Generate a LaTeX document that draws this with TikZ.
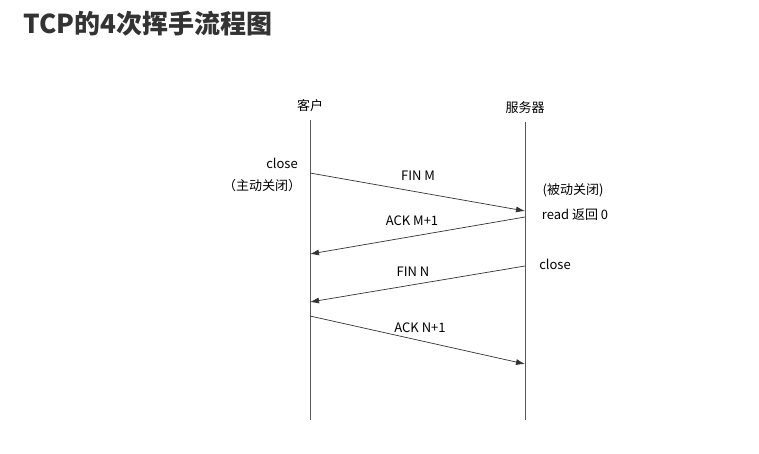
\documentclass[tikz,border=0pt]{standalone}
\usepackage{fontspec}
\setmainfont{Liberation Sans}
\newfontfamily\cjk{Noto Sans CJK SC}
\usetikzlibrary{positioning,arrows.meta}
\begin{document}
\begin{tikzpicture}[x=1pt,y=-1pt,
    lifeline/.style={draw=gray!70!black, line width=0.9pt},
    msg/.style={draw=gray!40!black, line width=0.7pt, -{Latex[length=9pt,width=6pt]}},
    lbl/.style={font=\fontsize{13}{15}\selectfont\cjk, inner sep=1pt}]
  \useasboundingbox (0,0) rectangle (759,453);
  % titulo
  \node[anchor=west, font=\fontsize{26}{30}\selectfont\bfseries\cjk, text=black!80] (title) at (20,24) {TCP的4次挥手流程图};
  % lineas de vida
  \node[lbl] (cli) at (310,106) {客户};
  \node[lbl] (srv) at (525,108) {服务器};
  \coordinate (c0) at (310,120); \coordinate (c1) at (310,420);
  \coordinate (s0) at (525,122); \coordinate (s1) at (525,420);
  \draw[lifeline] (c0) -- (c1);
  \draw[lifeline] (s0) -- (s1);
  % mensajes
  \coordinate (a1) at (310,173); \coordinate (b1) at (525,211);
  \coordinate (a2) at (525,217); \coordinate (b2) at (310,254);
  \coordinate (a3) at (525,266); \coordinate (b3) at (310,302);
  \coordinate (a4) at (310,316); \coordinate (b4) at (525,364);
  \draw[msg] (a1) -- (b1);
  \draw[msg] (a2) -- (b2);
  \draw[msg] (a3) -- (b3);
  \draw[msg] (a4) -- (b4);
  \node[lbl] (finm) at (418,176) {FIN M};
  \node[lbl] (ackm) at (412,221) {ACK M+1};
  \node[lbl] (finn) at (413,272) {FIN N};
  \node[lbl] (ackn) at (420,328) {ACK N+1};
  % estados
  \node[lbl] (cclose) at (282,163) {close};
  \node[lbl] (active) at (262,186) {（主动关闭）};
  \node[lbl] (passive) at (573,190) {(被动关闭)};
  \node[lbl] (read) at (575,215) {read 返回 0};
  \node[lbl] (sclose) at (555,264) {close};
\end{tikzpicture}
\end{document}
